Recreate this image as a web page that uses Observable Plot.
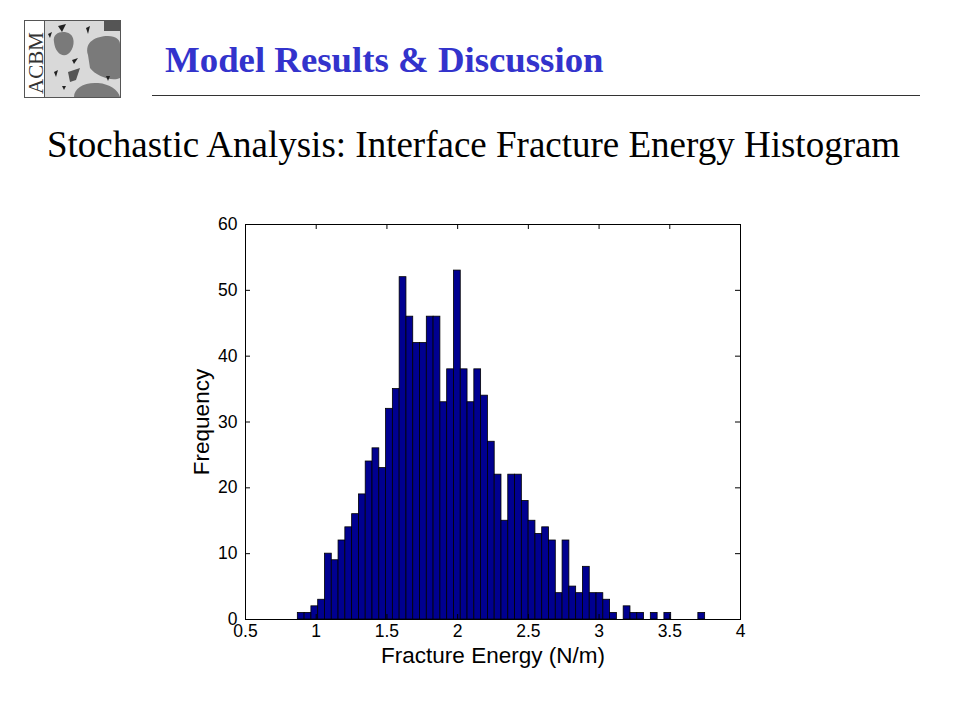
<!DOCTYPE html>
<html>
<head>
<meta charset="utf-8">
<script src="https://cdn.jsdelivr.net/npm/d3@7"></script>
<script src="https://cdn.jsdelivr.net/npm/@observablehq/plot@0.6"></script>
<style>
  html, body { margin: 0; padding: 0; background: #fff; }
  #page { position: relative; width: 960px; height: 720px; overflow: hidden; background: #fff; }
  #logo { position: absolute; left: 24px; top: 20px; overflow: visible; }
  #title { position: absolute; left: 165px; top: 38px; font-family: "Liberation Serif", "Times New Roman", serif; font-weight: bold; font-size: 36.8px; color: #3333cc; white-space: nowrap; line-height: 44px; }
  #rule { position: absolute; left: 152px; top: 95px; width: 768px; height: 0; border-top: 1px solid #333; }
  #subtitle { position: absolute; left: 47px; top: 123px; font-family: "Liberation Serif", "Times New Roman", serif; font-size: 37px; color: #000; white-space: nowrap; line-height: 44px; }
  #chart { position: absolute; left: 0; top: 180px; }
</style>
</head>
<body>
<div id="page">
  <svg id="logo" width="97" height="78" viewBox="0 0 97 78">
    <rect x="0.5" y="0.5" width="96" height="77" fill="#d9d9d9" stroke="#555" stroke-width="1"/>
    <rect x="0.5" y="0.5" width="20" height="77" fill="#fff" stroke="#555" stroke-width="1"/>
    <text transform="translate(19,74) rotate(-90)" font-family="Liberation Serif, serif" font-size="21" fill="#333">ACBM</text>
    <path d="M30,22 C28,12 40,10 46,14 C52,18 50,30 44,34 C38,38 31,32 30,22 Z" fill="#7a7a7a"/>
    <path d="M64,35 C60,22 72,16 84,16 C92,16 96,20 96,24 L96,58 C88,62 72,56 66,48 Z" fill="#7a7a7a"/>
    <path d="M50,77 C50,68 60,62 74,63 C86,64 94,70 96,77 Z" fill="#7a7a7a"/>
    <rect x="80" y="1" width="16" height="10" fill="#555"/>
    <polygon points="44,52 56,48 52,60 46,62" fill="#555"/>
    <polygon points="34,6 42,4 38,12" fill="#222"/>
    <polygon points="62,8 66,6 64,14" fill="#222"/>
    <polygon points="48,40 54,38 50,44" fill="#222"/>
    <polygon points="30,52 34,50 32,57" fill="#222"/>
    <polygon points="82,56 86,56 84,61" fill="#222"/>
    <polygon points="38,66 42,66 40,70" fill="#222"/>
    <polygon points="24,14 28,12 26,18" fill="#222"/>
  </svg>
  <div id="title">Model Results &amp; Discussion</div>
  <div id="rule"></div>
  <div id="subtitle">Stochastic Analysis: Interface Fracture Energy Histogram</div>
  <div id="chart"></div>
</div>
<script>
// Histogram counts (60 equal-width bins)
const counts = [
  1, 1, 2, 3, 10, 9, 12, 14, 16, 19,
  24, 26, 23, 32, 35, 52, 46, 42, 42, 46,
  46, 33, 38, 53, 38, 33, 38, 34, 27, 22,
  15, 22, 22, 18, 15, 13, 14, 12, 4, 12,
  5, 4, 8, 4, 4, 3, 1, 0, 2, 1,
  1, 0, 1, 0, 1, 0, 0, 0, 0, 1
];
const binStart = 0.87;   // left edge of the first bin (N/m)
const binWidth = 0.048;  // bin width (N/m)
const xTicks = [0.5, 1, 1.5, 2, 2.5, 3, 3.5, 4];
const xTickLabels = ["0.5", "1", "1.5", "2", "2.5", "3", "3.5", "4"];
const yTicks = [0, 10, 20, 30, 40, 50, 60];
const yTickLabels = ["0", "10", "20", "30", "40", "50", "60"];
const xLabel = "Fracture Energy (N/m)";
const yLabel = "Frequency";

const bins = counts.map((c, i) => ({
  x1: binStart + i * binWidth,
  x2: binStart + (i + 1) * binWidth,
  count: c
}));

const W = 960, H = 500, mL = 245, mR = 220, mT = 44, mB = 61;
const innerW = W - mL - mR, innerH = H - mT - mB;
const tickLen = 5;

const chart = Plot.plot({
  width: W,
  height: H,
  marginLeft: mL,
  marginRight: mR,
  marginTop: mT,
  marginBottom: mB,
  style: { fontFamily: "'Liberation Sans', Arial, sans-serif", fontSize: "17.5px", color: "#000", background: "transparent" },
  x: { domain: [0.5, 4] },
  y: { domain: [0, 60] },
  marks: [
    Plot.rectY(bins.filter(d => d.count > 0), { x1: "x1", x2: "x2", y: "count", fill: "#000090", stroke: "#000", strokeWidth: 0.8 }),
    Plot.tickX(xTicks, { x: d => d, insetTop: innerH - tickLen, stroke: "#000" }),
    Plot.tickX(xTicks, { x: d => d, insetBottom: innerH - tickLen, stroke: "#000" }),
    Plot.tickY(yTicks, { y: d => d, insetRight: innerW - tickLen, stroke: "#000" }),
    Plot.tickY(yTicks, { y: d => d, insetLeft: innerW - tickLen, stroke: "#000" }),
    Plot.frame({ stroke: "#000" }),
    Plot.axisX({ ticks: xTicks, tickSize: 0, tickPadding: 5, tickFormat: (d) => xTickLabels[xTicks.indexOf(d)], label: null }),
    Plot.axisY({ ticks: yTicks, tickSize: 0, tickPadding: 8, tickFormat: (d) => yTickLabels[yTicks.indexOf(d)], label: null }),
    Plot.text([xLabel], { text: d => d, frameAnchor: "bottom", dy: 36, fontSize: 22.5, textAnchor: "middle", lineAnchor: "middle" }),
    Plot.text([yLabel], { text: d => d, frameAnchor: "left", dx: -44, rotate: -90, fontSize: 22.5, textAnchor: "middle", lineAnchor: "middle" })
  ]
});
document.getElementById("chart").appendChild(chart);
</script>
</body>
</html>
